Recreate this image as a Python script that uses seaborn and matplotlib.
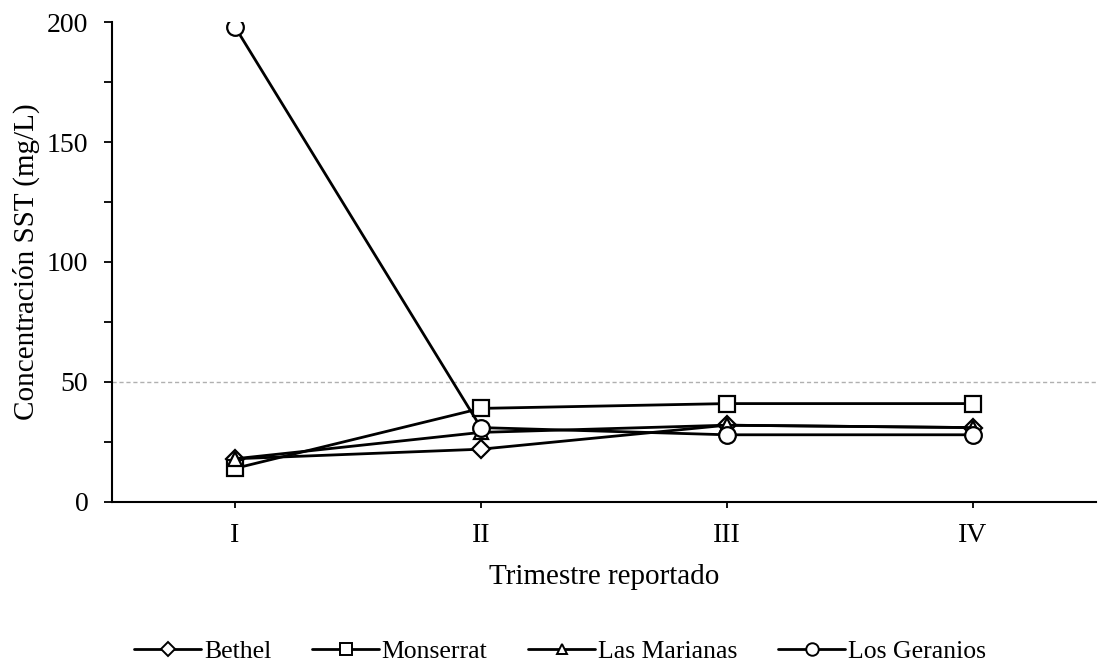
import matplotlib
matplotlib.use("Agg")
import matplotlib.pyplot as plt
import seaborn as sns
import pandas as pd
from matplotlib.lines import Line2D
from matplotlib.ticker import MultipleLocator

trimestres = ["I", "II", "III", "IV"]
bethel = [18, 22, 32, 31]
monserrat = [14, 39, 41, 41]
las_marianas = [18, 29, 32, 31]
los_geranios = [198, 31, 28, 28]
series_names = ["Bethel", "Monserrat", "Las Marianas", "Los Geranios"]
limite = 50

sns.set_theme(style="ticks")
plt.rcParams["font.family"] = ["Liberation Serif", "DejaVu Serif"]
plt.rcParams["text.color"] = "black"
plt.rcParams["axes.labelcolor"] = "black"
plt.rcParams["xtick.color"] = "black"
plt.rcParams["ytick.color"] = "black"

rows = []
for name, vals in zip(series_names, [bethel, monserrat, las_marianas, los_geranios]):
    for i, v in enumerate(vals):
        rows.append({"x": i, "valor": v, "serie": name})
df = pd.DataFrame(rows)

markers = {"Bethel": "D", "Monserrat": "s", "Las Marianas": "^", "Los Geranios": "o"}
msizes = {"Bethel": 9, "Monserrat": 12, "Las Marianas": 10, "Los Geranios": 12}

fig = plt.figure(figsize=(11.09, 6.67), dpi=100)
ax = fig.add_axes([0.101, 0.2474, 0.887, 0.7196])

ax.axhline(limite, color="#b0b0b0", linestyle=(0, (3, 2)), linewidth=1.0, zorder=1)

for name in series_names:
    sub = df[df["serie"] == name]
    sns.lineplot(data=sub, x="x", y="valor", ax=ax, color="black", linewidth=2.0,
                 marker=markers[name], markersize=msizes[name],
                 markerfacecolor="white", markeredgecolor="black",
                 markeredgewidth=1.6, legend=False, zorder=3)

ax.set_xlim(-0.5, 3.5)
ax.set_ylim(0, 200)
ax.set_xticks(range(len(trimestres)))
ax.set_xticklabels(trimestres)
ax.yaxis.set_major_locator(MultipleLocator(50))
ax.yaxis.set_minor_locator(MultipleLocator(25))
ax.tick_params(axis="x", which="major", labelsize=20, length=4, width=1.3, pad=11)
ax.tick_params(axis="y", which="major", labelsize=20, length=6, width=1.3, pad=11)
ax.tick_params(axis="y", which="minor", length=6, width=1.3)
for s in ["top", "right"]:
    ax.spines[s].set_visible(False)
for s in ["left", "bottom"]:
    ax.spines[s].set_linewidth(1.5)
    ax.spines[s].set_color("black")

ax.set_xlabel("Trimestre reportado", fontsize=21, labelpad=12)
ax.set_ylabel("Concentración SST (mg/L)", fontsize=21, labelpad=5)

handles = [Line2D([0], [0], color="black", linewidth=2.0, marker=markers[n],
                  markersize=msizes[n] * 0.75, markerfacecolor="white",
                  markeredgecolor="black", markeredgewidth=1.4) for n in series_names]
fig.legend(handles, series_names, loc="lower center", bbox_to_anchor=(0.505, -0.028),
           ncol=4, frameon=False, fontsize=18.5, handlelength=2.6, columnspacing=1.6,
           handletextpad=0.1)

fig.savefig("out.png", dpi=100)
